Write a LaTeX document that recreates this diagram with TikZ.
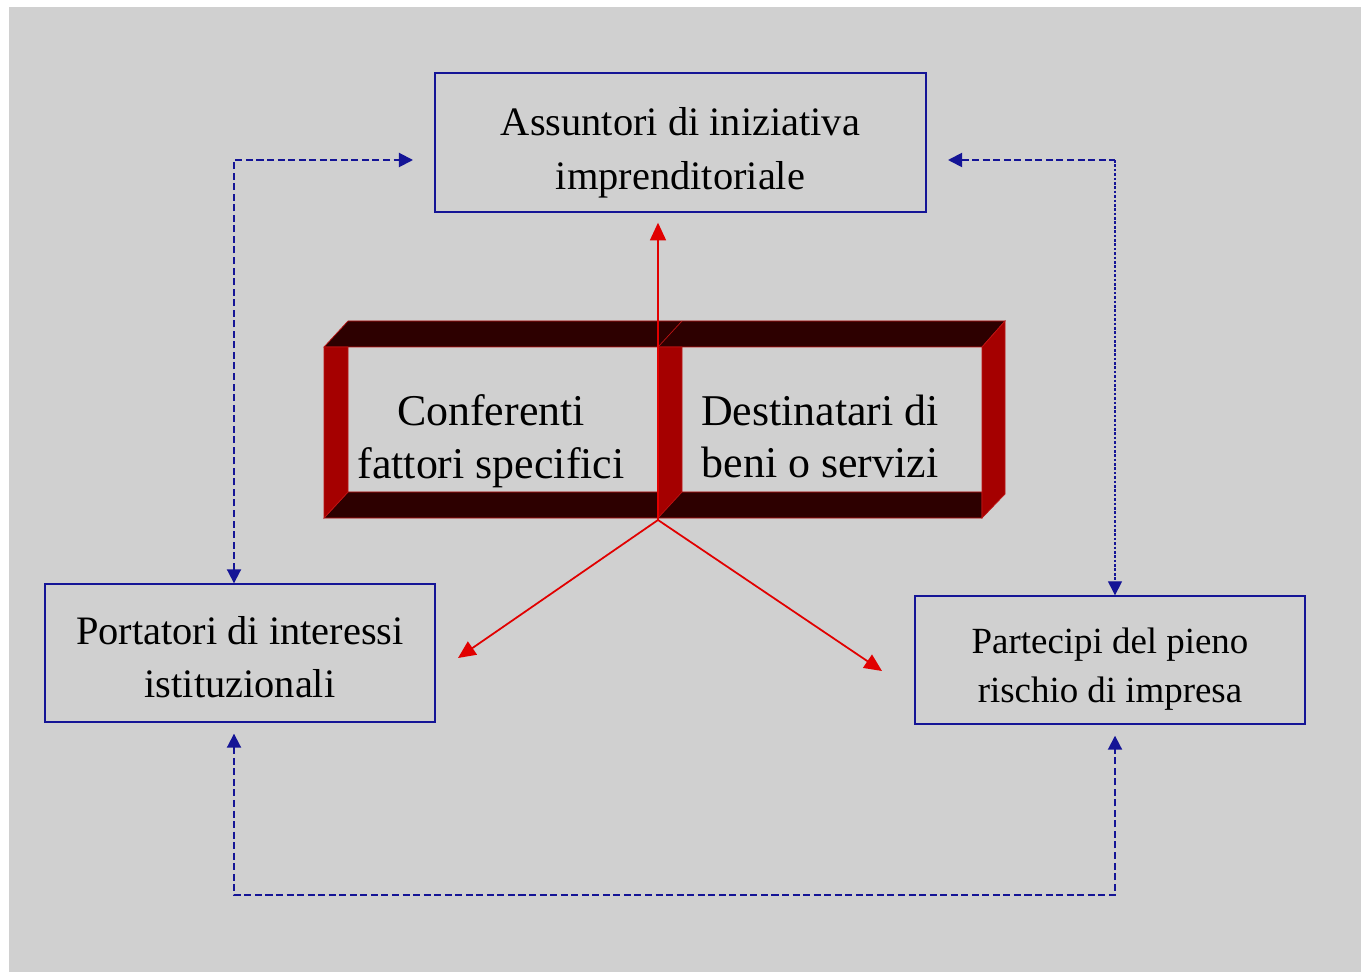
\documentclass[tikz,border=0pt]{standalone}
\usepackage{fontspec}
\setmainfont{Liberation Serif}
\usetikzlibrary{arrows.meta}
\definecolor{bgGray}{RGB}{208,208,208}
\definecolor{navyLine}{RGB}{20,20,150}
\definecolor{frameDark}{RGB}{45,0,0}
\definecolor{frameRed}{RGB}{165,0,0}
\definecolor{frameEdge}{RGB}{190,20,20}
\definecolor{arrowRed}{RGB}{225,0,0}
\newcommand{\lift}[1]{\rule{0pt}{#1}}

\begin{document}
\begin{tikzpicture}[x=0.02cm, y=-0.02cm, >={Triangle[length=8pt, width=8pt]}]
	\tikzstyle{boxStyle}=[draw=navyLine, line width=0.8pt, inner sep=0pt, align=center]
	\tikzstyle{frameText}=[font=\fontsize{25}{30}\selectfont, align=center, inner sep=0pt]
	\tikzstyle{darkFace}=[fill=frameDark, draw=frameEdge, line width=0.4pt]
	\tikzstyle{redFace}=[fill=frameRed, draw=frameEdge, line width=0.4pt]
	\tikzstyle{redArrow}=[draw=arrowRed, line width=1pt, ->, >={Triangle[length=10pt, width=9pt]}]
	\tikzstyle{blueDash}=[draw=navyLine, line width=1.1pt, dash pattern=on 4pt off 2pt]
	\tikzstyle{blueDot}=[draw=navyLine, line width=0.8pt, dash pattern=on 1.5pt off 1pt]
	\useasboundingbox (0,0) rectangle (1361,972);
	\fill[white] (0,0) rectangle (1361,972);
	\fill[bgGray] (9,7) rectangle (1361,972);
	\node[boxStyle, font=\fontsize{23}{31}\selectfont, minimum width=9.82cm, minimum height=2.78cm] (assuntori) at (680.5,142.5) {\lift{1.2em}Assuntori di iniziativa\\imprenditoriale};
	\node[boxStyle, font=\fontsize{23}{30}\selectfont, minimum width=7.8cm, minimum height=2.76cm] (portatori) at (240,653) {\lift{0.9em}Portatori di interessi\\istituzionali};
	\node[boxStyle, font=\fontsize{21}{28}\selectfont, minimum width=7.8cm, minimum height=2.56cm] (partecipi) at (1110,660) {\lift{1.17em}Partecipi del pieno\\rischio di impresa};
	\fill[darkFace] (324,347) -- (348,321) -- (1005,321) -- (982,347) -- cycle;
	\fill[darkFace] (324,518) -- (348,492) -- (982,492) -- (982,518) -- cycle;
	\fill[redFace] (982,347) -- (1005,321) -- (1005,494) -- (982,518) -- cycle;
	\fill[redFace] (324,347) -- (348,347) -- (348,492) -- (324,518) -- cycle;
	\fill[redFace] (658,347) -- (682,347) -- (682,492) -- (658,518) -- cycle;
	\draw[frameEdge, line width=0.4pt] (658,347) -- (682,321);
	\node[frameText] (conferenti) at (491,441) {Conferenti\\fattori specifici};
	\node[frameText] (destinatari) at (820,436.5) {Destinatari di\\beni o servizi};
	\coordinate (hub) at (658,520);
	\coordinate (leftTip) at (458,658);
	\coordinate (rightTip) at (882,671);
	\draw[redArrow, shorten >=0.2cm] (hub) -- (assuntori.south -| hub);
	\draw[redArrow] (hub) -- (leftTip);
	\draw[redArrow] (hub) -- (rightTip);
	\coordinate (lCorner) at (234,160);
	\coordinate (aWest) at (413,160);
	\coordinate (rCorner) at (1115,160);
	\coordinate (aEast) at (948,160);
	\coordinate (lFoot) at (234,895);
	\coordinate (rFoot) at (1115,895);
	\draw[blueDash, <->] (portatori.north -| lCorner) -- (lCorner) -- (aWest);
	\draw[blueDash, <-] (aEast) -- (rCorner);
	\draw[blueDot, ->] (rCorner) -- (partecipi.north -| rCorner);
	\draw[blueDash, <->, shorten <=0.22cm, shorten >=0.22cm] (portatori.south -| lFoot) -- (lFoot) -- (rFoot) -- (partecipi.south -| rFoot);
\end{tikzpicture}
\end{document}
